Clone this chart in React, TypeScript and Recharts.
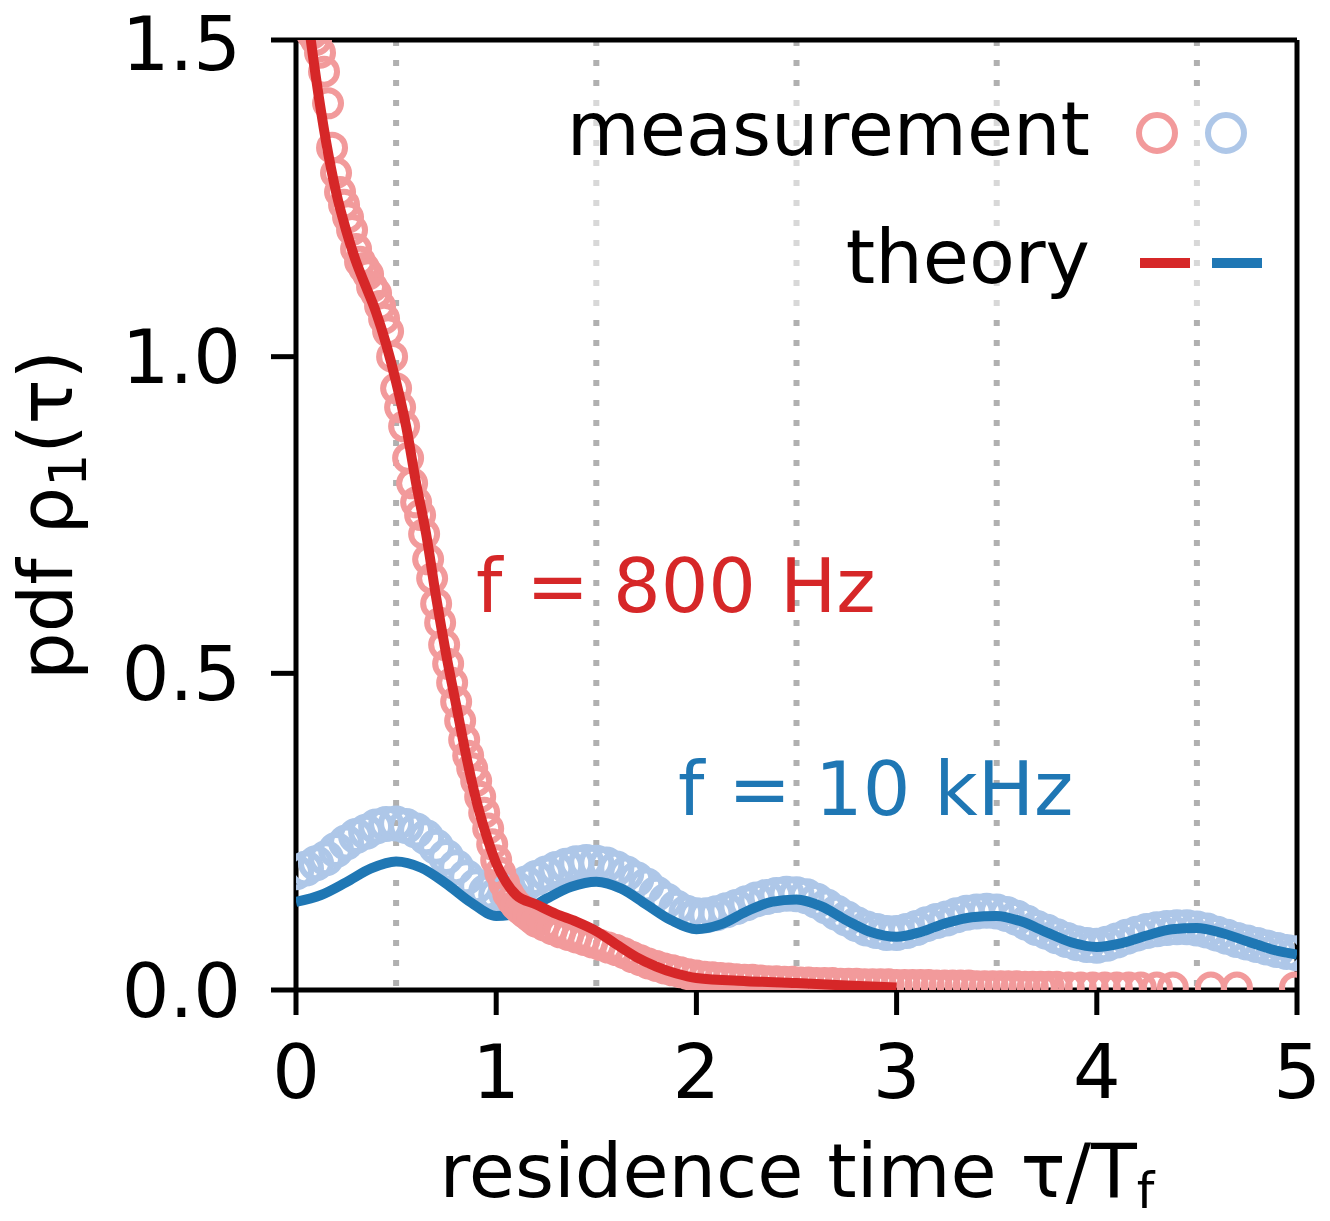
import { ComposedChart, Line, Scatter, XAxis, YAxis, CartesianGrid, ReferenceLine, Customized } from 'recharts';

const xTicks = [0, 1, 2, 3, 4, 5];
const yTicks = [0, 0.5, 1.0, 1.5];
const gridX = [0.5, 1.5, 2.5, 3.5, 4.5];

// theory, f = 800 Hz
const theoryRedT = [0, 0.05, 0.1, 0.15, 0.2, 0.25, 0.3, 0.35, 0.4, 0.45, 0.5, 0.55, 0.6, 0.65, 0.7, 0.75, 0.8, 0.85, 0.9, 0.95, 1.0, 1.05, 1.1, 1.2, 1.3, 1.4, 1.5, 1.6, 1.7, 1.8, 1.9, 2.0, 2.25, 2.5, 2.75, 3.0];
const theoryRedV = [1.7, 1.56, 1.44, 1.34, 1.26, 1.2, 1.15, 1.11, 1.07, 1.02, 0.96, 0.89, 0.8, 0.72, 0.62, 0.53, 0.45, 0.37, 0.3, 0.245, 0.2, 0.17, 0.15, 0.135, 0.12, 0.108, 0.093, 0.072, 0.052, 0.037, 0.026, 0.019, 0.014, 0.011, 0.007, 0.004];

// theory, f = 10 kHz
const theoryBlueT = [0, 0.125, 0.25, 0.375, 0.5, 0.625, 0.75, 0.875, 1.0, 1.125, 1.25, 1.375, 1.5, 1.625, 1.75, 1.875, 2.0, 2.125, 2.25, 2.375, 2.5, 2.625, 2.75, 2.875, 3.0, 3.125, 3.25, 3.375, 3.5, 3.625, 3.75, 3.875, 4.0, 4.125, 4.25, 4.375, 4.5, 4.625, 4.75, 4.875, 5.0];
const theoryBlueV = [0.139, 0.15, 0.17, 0.192, 0.203, 0.193, 0.168, 0.138, 0.117, 0.122, 0.144, 0.163, 0.171, 0.16, 0.135, 0.11, 0.096, 0.104, 0.124, 0.139, 0.143, 0.132, 0.11, 0.091, 0.084, 0.092, 0.106, 0.115, 0.117, 0.108, 0.091, 0.075, 0.068, 0.074, 0.086, 0.096, 0.098, 0.09, 0.077, 0.064, 0.056];

// measurement, f = 800 Hz
const measRedT = [
  0, 0.02, 0.04, 0.06, 0.08, 0.1, 0.12, 0.14, 0.16, 0.18, 0.2, 0.22, 0.24, 0.26, 0.28, 0.3, 0.32, 0.34, 0.36, 0.38,
  0.4, 0.42, 0.44, 0.46, 0.48, 0.5, 0.52, 0.54, 0.56, 0.58, 0.6, 0.62, 0.64, 0.66, 0.68, 0.7, 0.72, 0.74, 0.76, 0.78,
  0.8, 0.82, 0.84, 0.86, 0.88, 0.9, 0.92, 0.94, 0.96, 0.98, 1.0, 1.02, 1.04, 1.06, 1.08, 1.1, 1.12, 1.14, 1.16, 1.18,
  1.2, 1.24, 1.28, 1.32, 1.36, 1.4, 1.44, 1.48, 1.52, 1.56, 1.6, 1.64, 1.68, 1.72, 1.76, 1.8, 1.84, 1.88, 1.92, 1.96,
  2.0, 2.04, 2.08, 2.12, 2.16, 2.2, 2.24, 2.28, 2.32, 2.36, 2.4, 2.44, 2.48, 2.52, 2.56, 2.6, 2.64, 2.68, 2.72, 2.76,
  2.8, 2.84, 2.88, 2.92, 2.96, 3.0, 3.04, 3.08, 3.12, 3.16, 3.2, 3.24, 3.28, 3.32, 3.36, 3.4, 3.44, 3.48, 3.52, 3.56,
  3.6, 3.64, 3.68, 3.72, 3.76, 3.8, 3.86, 3.92, 3.98, 4.04, 4.1, 4.16, 4.22, 4.3, 4.38, 4.57, 4.7, 4.99,
];
const measRedV = [
  1.62, 1.58, 1.55, 1.53, 1.51, 1.5, 1.48, 1.45, 1.4, 1.33, 1.29, 1.26, 1.24, 1.22, 1.2, 1.17, 1.15, 1.14, 1.13, 1.11,
  1.1, 1.08, 1.06, 1.04, 1.0, 0.95, 0.92, 0.89, 0.84, 0.8, 0.77, 0.75, 0.72, 0.68, 0.65, 0.61, 0.58, 0.545, 0.515, 0.485,
  0.455, 0.425, 0.395, 0.37, 0.35, 0.33, 0.305, 0.28, 0.255, 0.23, 0.205, 0.185, 0.168, 0.152, 0.142, 0.134, 0.128, 0.123, 0.118, 0.113,
  0.108, 0.102, 0.096, 0.091, 0.087, 0.083, 0.079, 0.075, 0.071, 0.067, 0.063, 0.058, 0.052, 0.047, 0.042, 0.038, 0.034, 0.031, 0.028, 0.025,
  0.023, 0.021, 0.02, 0.019, 0.018, 0.017, 0.016, 0.016, 0.015, 0.014, 0.014, 0.013, 0.013, 0.012, 0.012, 0.011, 0.011, 0.011, 0.01, 0.01,
  0.01, 0.009, 0.009, 0.009, 0.009, 0.008, 0.008, 0.008, 0.008, 0.008, 0.007, 0.007, 0.007, 0.007, 0.007, 0.006, 0.006, 0.006, 0.006, 0.006,
  0.006, 0.005, 0.005, 0.005, 0.005, 0.005, 0.004, 0.004, 0.004, 0.004, 0.004, 0.004, 0.004, 0.004, 0.004, 0.004, 0.004, 0.004,
];

// measurement, f = 10 kHz
const measBlueT = [
  0, 0.05, 0.1, 0.15, 0.2, 0.25, 0.3, 0.35, 0.4, 0.45, 0.5, 0.55, 0.6, 0.65, 0.7, 0.75, 0.8, 0.85, 0.9, 0.95,
  1.0, 1.05, 1.1, 1.15, 1.2, 1.25, 1.3, 1.35, 1.4, 1.45, 1.5, 1.55, 1.6, 1.65, 1.7, 1.75, 1.8, 1.85, 1.9, 1.95,
  2.0, 2.05, 2.1, 2.15, 2.2, 2.25, 2.3, 2.35, 2.4, 2.45, 2.5, 2.55, 2.6, 2.65, 2.7, 2.75, 2.8, 2.85, 2.9, 2.95,
  3.0, 3.05, 3.1, 3.15, 3.2, 3.25, 3.3, 3.35, 3.4, 3.45, 3.5, 3.55, 3.6, 3.65, 3.7, 3.75, 3.8, 3.85, 3.9, 3.95,
  4.0, 4.05, 4.1, 4.15, 4.2, 4.25, 4.3, 4.35, 4.4, 4.45, 4.5, 4.55, 4.6, 4.65, 4.7, 4.75, 4.8, 4.85, 4.9, 4.95, 5.0,
];
const measBlueV = [
  0.186, 0.192, 0.2, 0.208, 0.221, 0.233, 0.243, 0.25, 0.258, 0.262, 0.263, 0.259, 0.252, 0.241, 0.226, 0.21, 0.194, 0.178, 0.164, 0.155,
  0.15, 0.152, 0.16, 0.168, 0.177, 0.184, 0.191, 0.196, 0.2, 0.202, 0.201, 0.198, 0.192, 0.184, 0.175, 0.165, 0.152, 0.141, 0.13, 0.122,
  0.118, 0.118, 0.121, 0.126, 0.131, 0.137, 0.143, 0.147, 0.15, 0.152, 0.151, 0.148, 0.141, 0.132, 0.122, 0.113, 0.104, 0.097, 0.093, 0.09,
  0.09, 0.093, 0.098, 0.104, 0.109, 0.113, 0.118, 0.122, 0.124, 0.125, 0.124, 0.12, 0.114, 0.106, 0.098, 0.092, 0.085, 0.079, 0.074, 0.071,
  0.07, 0.073, 0.078, 0.084, 0.089, 0.093, 0.096, 0.098, 0.099, 0.099, 0.097, 0.094, 0.089, 0.084, 0.079, 0.075, 0.071, 0.067, 0.063, 0.06, 0.058,
];

const zip = (ts: number[], vs: number[]) => ts.map((t, i) => ({ t, v: vs[i] }));

const theoryRed = zip(theoryRedT, theoryRedV);
const theoryBlue = zip(theoryBlueT, theoryBlueV);
const measRed = zip(measRedT, measRedV);
const measBlue = zip(measBlueT, measBlueV);

const RED = '#d62728';
const BLUE = '#1f77b4';
const LIGHT_RED = '#f29a9b';
const LIGHT_BLUE = '#aec7e8';
const FONT = 'DejaVu Sans';

const ring = (color: string, r: number) => (p: any) => (
  <circle cx={p.cx} cy={p.cy} r={r} fill="none" stroke={color} strokeWidth={6} />
);

function Overlay() {
  return (
    <g fontFamily={FONT}>
      <rect x={548} y={88} width={728} height={222} fill="#fff" opacity={0.5} />
      <text x={1090} y={155} fontSize={75} textAnchor="end" fill="#000">measurement</text>
      <circle cx={1157} cy={133} r={18} fill="none" stroke={LIGHT_RED} strokeWidth={6} />
      <circle cx={1226} cy={133} r={18} fill="none" stroke={LIGHT_BLUE} strokeWidth={6} />
      <text x={1090} y={283} fontSize={75} textAnchor="end" fill="#000">theory</text>
      <line x1={1140} x2={1190} y1={263} y2={263} stroke={RED} strokeWidth={10} />
      <line x1={1212} x2={1262} y1={263} y2={263} stroke={BLUE} strokeWidth={10} />

      <text x={476} y={612} fontSize={75} fill={RED}>f = 800 Hz</text>
      <text x={678} y={815} fontSize={75} fill={BLUE}>f = 10 kHz</text>

      <text x={797} y={1197} fontSize={75} textAnchor="middle" fill="#000">
        residence time τ/T<tspan dy={11} fontSize={50}>f</tspan>
      </text>
      <text x={72} y={515} fontSize={75} textAnchor="middle" fill="#000" transform="rotate(-90 72 515)">
        pdf ρ<tspan dy={14} fontSize={52}>1</tspan><tspan dy={-14}>(τ)</tspan>
      </text>
    </g>
  );
}

export default function App() {
  const tickStyle = { fontSize: 75, fill: '#000', fontFamily: FONT };
  return (
    <div style={{ position: 'absolute', left: 0, top: 0, background: '#fff' }}>
      <ComposedChart width={1330} height={1221} margin={{ top: 40, right: 33, left: 0, bottom: 0 }}>
        <CartesianGrid
          horizontal={false}
          stroke="#b0b0b0"
          strokeWidth={6}
          strokeDasharray="6 14"
          verticalCoordinatesGenerator={({ xAxis, offset }: any) =>
            xAxis && typeof xAxis.scale === 'function'
              ? gridX.map((v) => xAxis.scale(v))
              : gridX.map((v) => offset.left + (v / 5) * offset.width)
          }
        />
        <XAxis
          dataKey="t"
          type="number"
          domain={[0, 5]}
          ticks={xTicks}
          allowDataOverflow
          height={231}
          tickSize={25}
          tickMargin={30}
          tick={tickStyle}
          axisLine={{ stroke: '#000', strokeWidth: 5 }}
          tickLine={{ stroke: '#000', strokeWidth: 5 }}
        />
        <YAxis
          dataKey="v"
          type="number"
          domain={[0, 1.5]}
          ticks={yTicks}
          tickFormatter={(v: number) => v.toFixed(1)}
          allowDataOverflow
          width={296}
          tickSize={25}
          tickMargin={30}
          tick={tickStyle}
          axisLine={{ stroke: '#000', strokeWidth: 5 }}
          tickLine={{ stroke: '#000', strokeWidth: 5 }}
        />
        <Scatter data={measBlue} dataKey="v" shape={ring(LIGHT_BLUE, 15)} isAnimationActive={false} zIndex={600} />
        <Line data={theoryBlue} dataKey="v" type="monotone" stroke={BLUE} strokeWidth={10} dot={false} activeDot={false} isAnimationActive={false} zIndex={610} />
        <Scatter data={measRed} dataKey="v" shape={ring(LIGHT_RED, 13)} isAnimationActive={false} zIndex={620} />
        <Line data={theoryRed} dataKey="v" type="monotone" stroke={RED} strokeWidth={10} dot={false} activeDot={false} isAnimationActive={false} zIndex={630} />
        <ReferenceLine y={1.5} stroke="#000" strokeWidth={5} />
        <ReferenceLine x={5} stroke="#000" strokeWidth={5} />
        <Customized component={Overlay} />
      </ComposedChart>
    </div>
  );
}
